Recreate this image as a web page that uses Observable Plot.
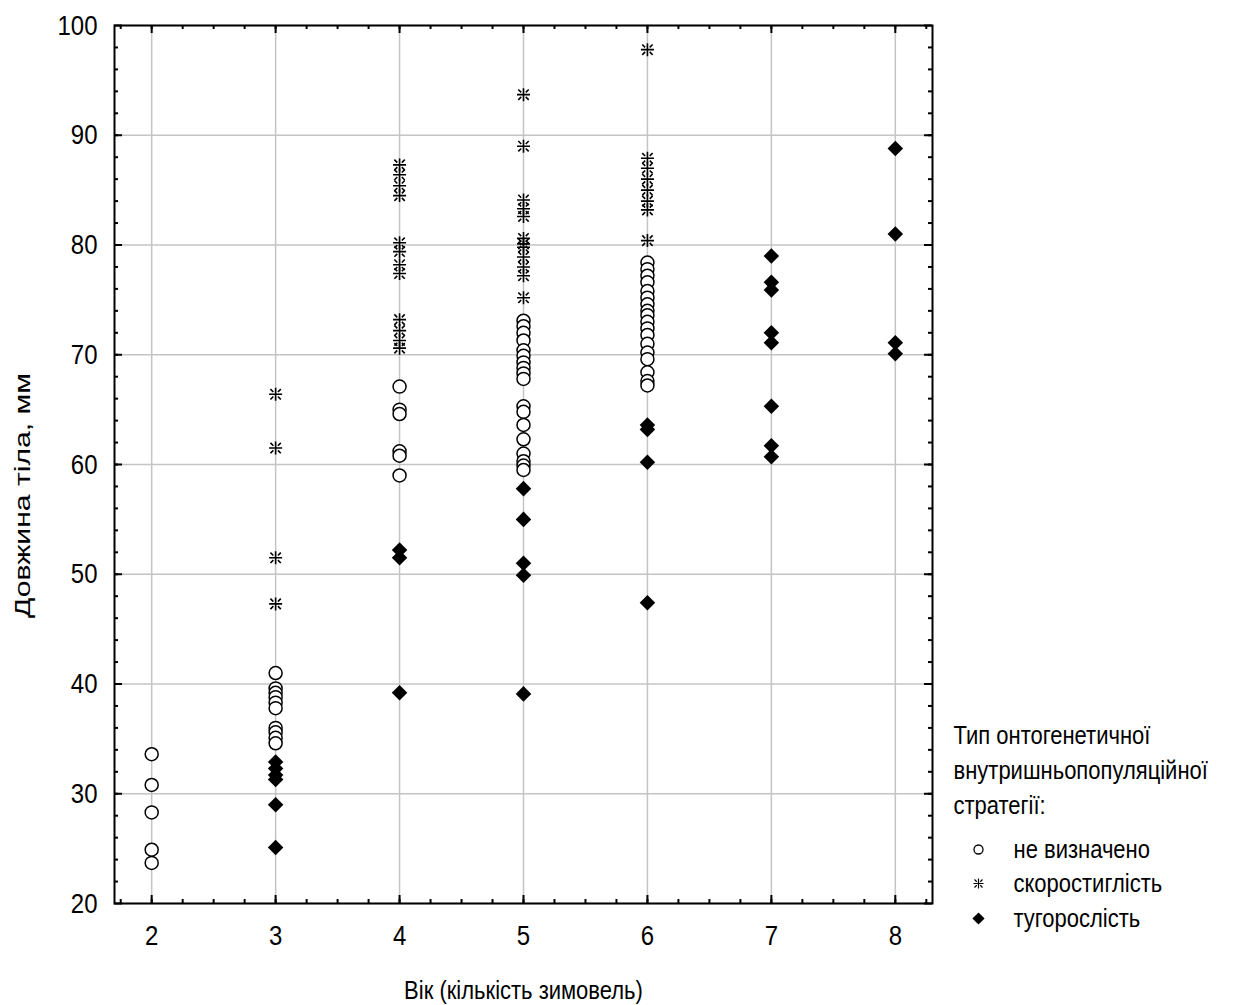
<!DOCTYPE html>
<html><head><meta charset="utf-8">
<script src="https://cdn.jsdelivr.net/npm/d3@7"></script>
<script src="https://cdn.jsdelivr.net/npm/@observablehq/plot@0.6"></script>
<style>body{margin:0;background:#fff} svg{display:block}</style>
</head><body><div id="chart"></div>
<script>
const FONT = "'Liberation Sans',Arial,sans-serif";

const xTicks = [2, 3, 4, 5, 6, 7, 8];
const yTicks = [20, 30, 40, 50, 60, 70, 80, 90, 100];
const xTitle = "Вік (кількість зимовель)";
const yTitle = "Довжина тіла, мм";
const legendTitle = "Тип онтогенетичної\nвнутришньопопуляційної\nстратегії:";
const groups = ["не визначено", "скоростиглість", "тугорослість"];

// не визначено (open circles)
const undetAge = [2,2,2,2,2, 3,3,3,3,3,3,3,3,3,3, 4,4,4,4,4,4,
  5,5,5,5,5,5,5,5,5,5,5,5,5,5,5,5,5,5,
  6,6,6,6,6,6,6,6,6,6,6,6,6,6,6,6,6,6];
const undetLen = [33.6,30.8,28.3,24.9,23.7,
  41.0,39.6,39.2,38.8,38.3,37.8,36.0,35.6,35.1,34.6,
  67.1,65.0,64.6,61.2,60.8,59.0,
  73.1,72.6,72.0,71.3,70.4,69.9,69.3,68.8,68.3,67.8,65.3,64.8,63.6,62.3,61.0,60.3,59.9,59.5,
  78.4,77.8,77.2,76.6,75.8,75.2,74.6,74.0,73.6,73.0,72.4,71.8,71.0,70.2,69.6,68.4,67.6,67.2];

// скоростиглість (asterisks)
const fastAge = [3,3,3,3, 4,4,4,4,4,4,4,4,4,4,4,4,
  5,5,5,5,5,5,5,5,5,5,5,5, 6,6,6,6,6,6,6,6];
const fastLen = [66.4,61.5,51.5,47.3,
  87.3,86.4,85.4,84.5,80.2,79.4,78.2,77.4,73.2,72.2,71.3,70.6,
  93.7,89.0,84.1,83.3,82.6,80.6,79.8,78.9,78.0,77.2,75.2,80.1,
  97.8,87.9,87.0,86.0,85.0,84.0,83.2,80.4];

// тугорослість (filled diamonds)
const slowAge = [3,3,3,3,3,3, 4,4,4, 5,5,5,5,5, 6,6,6,6, 7,7,7,7,7,7,7,7, 8,8,8,8];
const slowLen = [32.9,32.3,31.7,31.3,29.0,25.1,
  52.2,51.5,39.2,
  57.8,55.0,51.0,49.9,39.1,
  63.6,63.2,60.2,47.4,
  79.0,76.6,75.9,72.0,71.1,65.3,61.7,60.7,
  88.8,81.0,71.1,70.1];

const undet = undetAge.map((a, i) => ({age: a, len: undetLen[i]}));
const fast = fastAge.map((a, i) => ({age: a, len: fastLen[i]}));
const slow = slowAge.map((a, i) => ({age: a, len: slowLen[i]}));

const asterisk = {
  draw(ctx, size) {
    const r = Math.sqrt(size / Math.PI);
    ctx.moveTo(0, -r); ctx.lineTo(0, r);
    ctx.moveTo(-r, 0); ctx.lineTo(r, 0);
    const a = 0.35 * r, b = 0.8 * r;
    for (const [sx, sy] of [[1,1],[1,-1],[-1,1],[-1,-1]]) {
      ctx.moveTo(sx * a, sy * a); ctx.lineTo(sx * b, sy * b);
    }
  }
};

const X0 = 1.7, X1 = 8.3, Y0 = 20, Y1 = 100;
const xMinor = d3.range(1.75, 8.3, 0.25);
const yMinor = d3.range(22, 100, 2);
const pxX = (8.3 - 1.7) / (932 - 114), pxY = 80 / (903 - 25);
const minL = 4, majL = 8;

const plot = Plot.plot({
  width: 1260, height: 1005,
  marginLeft: 114, marginRight: 328, marginTop: 25, marginBottom: 102,
  style: {fontFamily: FONT, color: "black", background: "white"},
  x: {domain: [X0, X1]},
  y: {domain: [Y0, Y1]},
  marks: [
    Plot.gridX(xTicks, {stroke: "#c4c4c4", strokeOpacity: 1, strokeWidth: 1.5}),
    Plot.gridY(yTicks, {stroke: "#c4c4c4", strokeOpacity: 1, strokeWidth: 1.5}),
    Plot.axisX({ticks: xTicks, tickSize: 0, tickPadding: 21, fontSize: 24, label: null, tickFormat: d => String(d)}),
    Plot.axisY({ticks: yTicks, tickSize: 0, tickPadding: 17, fontSize: 24, label: null, tickFormat: d => String(d)}),
    // inward ticks on all four sides
    Plot.ruleX(xMinor, {x: d => d, y1: Y0, y2: Y0 + minL * pxY, strokeWidth: 2}),
    Plot.ruleX(xMinor, {x: d => d, y1: Y1, y2: Y1 - minL * pxY, strokeWidth: 2}),
    Plot.ruleX(xTicks, {x: d => d, y1: Y0, y2: Y0 + majL * pxY, strokeWidth: 2}),
    Plot.ruleX(xTicks, {x: d => d, y1: Y1, y2: Y1 - majL * pxY, strokeWidth: 2}),
    Plot.ruleY(yMinor, {y: d => d, x1: X0, x2: X0 + minL * pxX, strokeWidth: 2}),
    Plot.ruleY(yMinor, {y: d => d, x1: X1, x2: X1 - minL * pxX, strokeWidth: 2}),
    Plot.ruleY(yTicks, {y: d => d, x1: X0, x2: X0 + majL * pxX, strokeWidth: 2}),
    Plot.ruleY(yTicks, {y: d => d, x1: X1, x2: X1 - majL * pxX, strokeWidth: 2}),
    Plot.frame({stroke: "black", strokeWidth: 2}),
    Plot.dot(undet, {x: "age", y: "len", symbol: "circle", r: 6.5, fill: "white", stroke: "black", strokeWidth: 1.5}),
    Plot.dot(fast, {x: "age", y: "len", symbol: asterisk, r: 6.5, fill: "none", stroke: "black", strokeWidth: 1.6}),
    Plot.dot(slow, {x: "age", y: "len", symbol: "diamond2", r: 7, fill: "black", stroke: "none"}),
    // titles
    Plot.text([xTitle], {text: d => d, frameAnchor: "bottom", lineAnchor: "middle", textAnchor: "middle", dy: 87, fontSize: 22}),
    Plot.text([yTitle], {text: d => d, frameAnchor: "left", lineAnchor: "middle", textAnchor: "middle", rotate: -90, dx: -92, dy: 31, fontSize: 22}),
    // legend
    Plot.text([legendTitle], {text: d => d, frameAnchor: "bottom-right", textAnchor: "start", lineAnchor: "top", lineHeight: 1.34, dx: 21, dy: -184, fontSize: 22}),
    Plot.dot([0], {frameAnchor: "bottom-right", dx: 46, dy: -54, symbol: "circle", r: 4.5, fill: "white", stroke: "black", strokeWidth: 1.3}),
    Plot.dot([0], {frameAnchor: "bottom-right", dx: 46, dy: -20, symbol: asterisk, r: 5, fill: "none", stroke: "black", strokeWidth: 1.2}),
    Plot.dot([0], {frameAnchor: "bottom-right", dx: 46, dy: 15, symbol: "diamond2", r: 5.5, fill: "black", stroke: "none"}),
    Plot.text([groups[0]], {text: d => d, frameAnchor: "bottom-right", textAnchor: "start", lineAnchor: "middle", dx: 81, dy: -54, fontSize: 22}),
    Plot.text([groups[1]], {text: d => d, frameAnchor: "bottom-right", textAnchor: "start", lineAnchor: "middle", dx: 81, dy: -20, fontSize: 22}),
    Plot.text([groups[2]], {text: d => d, frameAnchor: "bottom-right", textAnchor: "start", lineAnchor: "middle", dx: 81, dy: 15, fontSize: 22})
  ]
});
document.getElementById("chart").appendChild(plot);

// The reference's lettering is slightly stretched vertically; mimic that.
const S = 1.18;
const isPx = v => v != null && v !== "" && !/em$/.test(v);
plot.querySelectorAll("text").forEach(t => {
  const tr = t.getAttribute("transform") || "";
  const x = t.getAttribute("x"), y = t.getAttribute("y");
  let pre = tr;
  const tx = isPx(x) ? +x : 0, ty = isPx(y) ? +y : 0;
  if (isPx(x)) t.removeAttribute("x");
  if (isPx(y)) t.removeAttribute("y");
  if (tx || ty) pre += ` translate(${tx},${ty})`;
  if (tr.includes("rotate")) {
    t.setAttribute("transform", pre);
    t.setAttribute("textLength", 245);
    t.setAttribute("lengthAdjust", "spacingAndGlyphs");
  } else {
    t.setAttribute("transform", pre + ` scale(1,${S})`);
  }
});
</script>
</body></html>
